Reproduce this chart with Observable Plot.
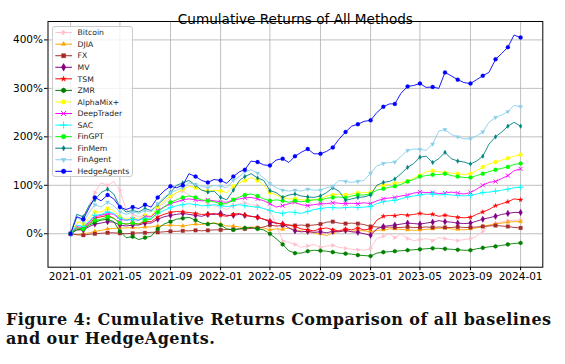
<!DOCTYPE html>
<html><head><meta charset="utf-8">
<script src="https://cdn.jsdelivr.net/npm/d3@7"></script>
<script src="https://cdn.jsdelivr.net/npm/@observablehq/plot@0.6"></script>
<style>
body{margin:0;background:#fff;}
#wrap{position:relative;width:565px;height:364px;overflow:hidden;}
#legend{position:absolute;left:51.7px;top:25.7px;width:81px;height:151px;background:rgba(255,255,255,0.8);border:1px solid #cccccc;border-radius:3px;box-sizing:border-box;}
#caption{position:absolute;left:6px;top:310px;font-family:"DejaVu Serif",serif;font-weight:bold;font-size:16px;letter-spacing:0.45px;line-height:19px;color:#111;white-space:nowrap;}
</style></head><body>
<div id="wrap"><div id="chart"></div><div id="legend"></div>
<div id="caption"><span id="cap1">Figure 4: Cumulative Returns Comparison of all baselines</span><br>and our HedgeAgents.</div></div>
<script>
// ---- data (cumulative return, %, semi-monthly from 2021-01-01 to 2024-01-01) ----
const methods = ["Bitcoin","DJIA","FX","MV","TSM","ZMR","AlphaMix+","DeepTrader","SAC","FinGPT","FinMem","FinAgent","HedgeAgents"];
const colors = ["#FFC0CB","#FFA500","#A52A2A","#800080","#FF0000","#008000","#FFFF00","#FF00FF","#00FFFF","#00FF00","#008080","#87CEEB","#0000FF"];
const xTickMonths = [0,4,8,12,16,20,24,28,32,36];
const yTicks = [0,100,200,300,400];

const bitcoin = [0,20,30,60,85,105,100,108,90,50, 40,35,38,35,55,62,75,85,88,80, 75,68,62,58,55,50,58,62,64,60, 58,52,48,20,-15,-18,-22,-28,-25,-22, -28,-25,-24,-28,-30,-32,-33,-34,-30,-10, -5,0,-8,0,-10,-14,-12,-10,-14,-8, -10,-12,-14,-12,-10,-5,5,18,22,24, 27,28,28];
const djia = [0,-2,0,2,5,7,10,11,12,12, 13,12,14,14,16,17,18,17,16,18, 20,19,21,22,20,16,16,14,12,14, 13,12,8,10,9,12,8,6,4,2, 0,-4,2,5,6,5,7,6,4,7, 8,10,10,9,8,7,8,9,10,11, 12,10,9,8,10,12,15,18,20,22, 24,25,25];
const fx = [0,-2,-3,-1,0,1,2,2,1,0, 1,2,2,3,3,4,5,5,6,6, 7,6,7,8,8,9,9,10,10,11, 12,14,18,16,17,18,17,18,17,18, 20,24,25,22,21,22,21,19,15,14, 13,14,13,13,14,13,13,14,13,14, 13,13,14,13,13,14,15,16,17,16, 15,13,12];
const mv = [0,8,8,15,20,22,25,24,18,16, 18,18,22,22,30,35,38,40,42,40, 38,36,40,40,42,38,38,40,38,36, 34,30,24,22,20,12,6,4,5,3, 4,2,5,4,7,4,3,0,-3,10, 15,17,18,20,22,21,20,22,24,27, 25,24,22,21,22,26,30,33,36,40, 42,44,44];
const tsm = [0,12,10,22,32,35,38,32,22,20, 22,20,25,25,35,40,44,46,45,44, 42,40,40,42,38,36,40,42,38,36, 34,30,27,22,20,18,15,10,8,6, 10,12,8,6,10,8,12,8,10,28, 36,38,37,40,38,40,42,40,40,36, 38,36,34,33,34,40,45,50,58,62, 66,72,70];
const zmr = [0,8,10,18,24,28,30,25,5,-8, -6,-12,-8,-5,10,20,25,30,32,34, 28,22,20,22,18,10,8,10,12,13, 10,8,0,-10,-22,-35,-40,-40,-36,-34, -35,-36,-38,-40,-41,-42,-44,-45,-46,-40, -38,-37,-36,-35,-34,-33,-32,-31,-30,-30, -31,-32,-33,-34,-34,-31,-29,-27,-26,-24, -22,-20,-19];
const alphamix = [0,25,20,35,45,45,52,48,35,30, 32,30,38,36,55,68,78,85,92,98, 95,90,88,90,88,85,98,105,110,116, 110,100,85,80,75,72,72,70,69,70, 72,78,80,82,80,82,84,85,85,98, 100,102,104,106,108,115,120,128,130,128, 126,125,124,122,124,130,138,144,148,152, 156,160,163];
const deeptrader = [0,15,12,25,35,38,42,40,30,28, 30,28,35,35,48,55,62,66,70,72, 70,68,70,68,66,65,70,72,74,75, 72,68,62,55,58,62,65,60,58,60, 62,62,64,63,62,63,62,64,62,68, 72,74,75,78,80,84,86,85,85,83, 84,86,84,82,85,92,100,106,108,114, 120,130,134];
const sac = [0,18,15,28,38,40,45,42,32,28, 30,28,32,32,42,48,54,58,60,62, 60,58,58,60,58,56,58,60,58,56, 55,52,48,44,42,45,44,42,46,50, 52,54,54,53,54,55,54,55,56,62, 66,68,69,72,76,78,80,82,82,80, 81,80,79,78,79,82,85,86,88,90, 92,95,96];
const fingpt = [0,12,10,20,28,30,35,32,22,20, 22,20,28,30,45,55,65,70,75,78, 75,70,68,66,62,62,70,76,80,82, 78,72,68,70,68,65,68,66,68,70, 70,73,75,76,74,78,80,80,82,90, 93,96,98,102,108,112,118,120,122,122, 124,120,118,116,116,120,124,128,132,135, 138,143,145];
const finmem = [0,40,35,60,70,85,92,82,55,45, 48,45,52,48,60,72,85,100,105,110, 100,90,86,88,75,70,90,110,118,124, 115,110,89,85,75,80,82,78,76,75, 78,85,95,88,69,72,75,76,80,100, 106,108,113,124,137,145,158,160,147,155, 168,155,150,148,144,150,160,185,200,210, 222,230,222];
const finagent = [0,35,25,45,60,55,65,58,45,40, 45,42,48,45,62,75,85,90,95,105, 102,98,95,100,98,95,110,118,128,132, 125,115,104,95,90,88,90,88,92,90, 90,95,98,110,108,106,108,110,125,140, 145,147,148,160,172,175,174,172,185,212, 215,205,200,196,196,202,210,230,240,245, 252,265,262];
const hedgeagents = [0,35,30,55,75,68,80,72,55,50, 55,52,60,55,75,88,98,95,100,124, 118,110,106,112,110,104,118,128,132,150, 148,142,141,152,155,147,160,168,175,165, 165,170,178,195,210,222,226,232,234,250, 262,268,268,290,304,306,310,302,303,300, 333,326,318,312,310,318,326,333,360,372, 385,410,405];

const seriesValues = [bitcoin,djia,fx,mv,tsm,zmr,alphamix,deeptrader,sac,fingpt,finmem,finagent,hedgeagents];

// ---- symbols ----
const triRight = {draw(c,s){const r=Math.sqrt(s)*0.68;c.moveTo(r,0);c.lineTo(-r/2,-r*0.866);c.lineTo(-r/2,r*0.866);c.closePath();}};
const triUp = {draw(c,s){const r=Math.sqrt(s)*0.68;c.moveTo(0,-r);c.lineTo(r*0.866,r/2);c.lineTo(-r*0.866,r/2);c.closePath();}};
const triDown = {draw(c,s){const r=Math.sqrt(s)*0.68;c.moveTo(0,r);c.lineTo(r*0.866,-r/2);c.lineTo(-r*0.866,-r/2);c.closePath();}};
const thinDiamond = {draw(c,s){const r=Math.sqrt(s)*0.66;c.moveTo(0,-r);c.lineTo(r*0.6,0);c.lineTo(0,r);c.lineTo(-r*0.6,0);c.closePath();}};
const hexagon = {draw(c,s){const r=Math.sqrt(s)*0.6;for(let k=0;k<6;k++){const a=Math.PI/6+k*Math.PI/3;const px=r*Math.cos(a),py=r*Math.sin(a);k?c.lineTo(px,py):c.moveTo(px,py);}c.closePath();}};
const star = {draw(c,s){d3.symbolStar.draw(c,s*0.55);}};
const symbols = [triRight,triUp,d3.symbolSquare,d3.symbolDiamond,star,hexagon,d3.symbolCircle,d3.symbolTimes,d3.symbolPlus,d3.symbolCircle,thinDiamond,triDown,d3.symbolCircle];
const strokeOnly = [false,false,false,false,false,false,false,true,true,false,false,false,false];
const markR = 2.0;

// ---- build ----
const dates = d3.range(73).map(i => new Date(Date.UTC(2021, Math.floor(i/2), i%2 ? 16 : 1)));
const xTicks = xTickMonths.map(m => new Date(Date.UTC(2021, m, 1)));

const marks = [
  Plot.gridX(xTicks, {stroke:"#b0b0b0", strokeOpacity:1, strokeWidth:0.8}),
  Plot.gridY(yTicks, {stroke:"#b0b0b0", strokeOpacity:1, strokeWidth:0.8})
];
methods.forEach((name, k) => {
  const rows = seriesValues[k].map((v, i) => ({date: dates[i], value: v, i}));
  marks.push(Plot.line(rows, {x:"date", y:"value", stroke: colors[k], strokeWidth:0.9}));
  const mk = rows.filter(d => d.i % 2 === 0);
  marks.push(Plot.dot(mk, {x:"date", y:"value", symbol: () => symbols[k], r: markR,
    fill: strokeOnly[k] ? "none" : colors[k], stroke: colors[k], strokeWidth: strokeOnly[k] ? 0.9 : 0.3}));
});
marks.push(Plot.frame({stroke:"black", strokeWidth:1}));
marks.push(Plot.axisX(xTicks, {tickFormat: d3.utcFormat("%Y-%m"), tickSize:3.5, tickPadding:1.5, label:null}));
marks.push(Plot.axisY(yTicks, {tickFormat: d => d + "%", tickSize:3.5, tickPadding:1.5, label:null}));
marks.push(Plot.text(["Cumulative Returns of All Methods"], {frameAnchor:"top", dy:-7, fontSize:13.6, fill:"black"}));

const chart = Plot.plot({
  width:565, height:285,
  marginLeft:47.5, marginRight:22.7, marginTop:21, marginBottom:18.3,
  style:{fontFamily:"DejaVu Sans", fontSize:"10.5px", color:"black", background:"white", overflow:"visible"},
  x:{type:"utc", domain:[new Date(Date.UTC(2020,10,7)), new Date(Date.UTC(2024,1,24))]},
  y:{domain:[-69,438]},
  symbol:{type:"identity"},
  marks
});
document.getElementById("chart").appendChild(chart);

// ---- legend ----
const lg = d3.select("#legend").append("svg").attr("width",81).attr("height",151).style("position","absolute").style("left","-1px").style("top","-1px");
methods.forEach((name, k) => {
  const cy = 6.6 + 11.56*k;
  const g = lg.append("g");
  g.append("line").attr("x1",3.3).attr("x2",20).attr("y1",cy).attr("y2",cy).attr("stroke",colors[k]).attr("stroke-width",1);
  g.append("path").attr("d", d3.symbol(symbols[k], Math.PI*2.4*2.4)()).attr("transform",`translate(11.6,${cy})`)
    .attr("fill", strokeOnly[k] ? "none" : colors[k]).attr("stroke", colors[k]).attr("stroke-width", strokeOnly[k]?1.0:0.3);
  g.append("text").attr("x",25.6).attr("y",cy).attr("dy","0.35em").attr("font-family","DejaVu Sans").attr("font-size",7.7).attr("fill","#222").text(name);
});
</script>
</body></html>
